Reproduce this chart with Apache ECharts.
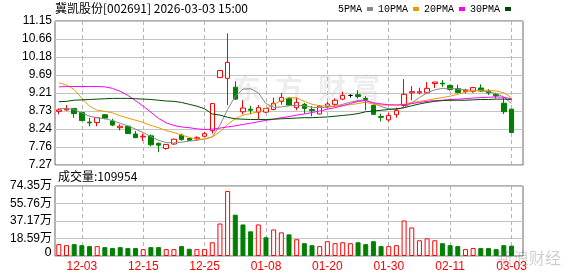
<!DOCTYPE html>
<html><head><meta charset="utf-8">
<script src="https://cdn.jsdelivr.net/npm/echarts@6/dist/echarts.min.js"></script>
<style>html,body{margin:0;padding:0;background:#fff}#c{width:578px;height:276px}</style>
</head><body><div id="c"></div>
<script>
const dates = ['11-28','12-01','12-02','12-03','12-04','12-05','12-08','12-09','12-10','12-11','12-12','12-15','12-16','12-17','12-18','12-19','12-22','12-23','12-24','12-25','12-26','12-29','12-30','12-31','01-05','01-06','01-07','01-08','01-09','01-12','01-13','01-14','01-15','01-16','01-19','01-20','01-21','01-22','01-23','01-26','01-27','01-28','01-29','01-30','02-02','02-03','02-04','02-05','02-06','02-09','02-10','02-11','02-12','02-13','02-24','02-25','02-26','02-27','03-02','03-03'];
const opens  = [8.72,8.76,8.80,8.69,8.43,8.42,8.63,8.46,8.28,8.32,8.11,8.03,8.06,7.86,7.72,7.84,8.08,7.99,7.98,8.05,8.20,9.63,9.61,9.37,8.71,8.78,8.70,8.70,8.77,8.99,9.07,8.82,8.91,8.77,8.65,8.86,8.91,9.05,9.15,9.17,9.07,8.88,8.58,8.49,8.63,8.88,9.22,9.22,9.22,9.47,9.48,9.42,9.33,9.26,9.26,9.35,9.26,9.18,8.94,8.78];
const closes = [8.76,8.79,8.66,8.47,8.41,8.55,8.54,8.35,8.32,8.12,8.01,8.05,7.82,7.81,7.83,7.97,7.96,7.94,8.01,8.12,8.93,9.82,10.04,9.05,8.81,8.75,8.82,8.80,8.94,9.09,8.89,8.96,8.80,8.74,8.86,8.92,9.02,9.15,9.15,9.12,9.04,8.64,8.56,8.61,8.74,9.18,9.25,9.25,9.34,9.51,9.46,9.31,9.23,9.29,9.36,9.27,9.22,9.14,8.71,8.15];
const lows   = [8.64,8.73,8.55,8.46,8.32,8.32,8.51,8.32,8.21,8.11,8.01,7.92,7.78,7.62,7.69,7.82,7.93,7.93,7.93,8.02,8.12,9.63,8.89,9.03,8.64,8.64,8.51,8.67,8.75,8.90,8.87,8.75,8.66,8.59,8.64,8.80,8.86,9.02,9.09,9.07,8.75,8.62,8.45,8.45,8.55,8.84,9.02,9.18,9.20,9.35,9.38,9.28,9.21,9.20,9.22,9.24,9.16,9.07,8.65,8.15];
const highs  = [8.80,8.89,8.81,8.71,8.55,8.57,8.65,8.52,8.37,8.33,8.19,8.12,8.10,7.88,7.84,7.99,8.12,8.01,8.05,8.17,8.93,9.82,10.82,9.53,9.02,8.87,8.89,8.81,9.09,9.22,9.10,9.09,8.95,8.86,8.89,8.97,9.07,9.25,9.18,9.29,9.13,8.90,8.66,8.68,8.82,9.59,9.40,9.36,9.51,9.51,9.56,9.44,9.44,9.33,9.38,9.45,9.32,9.22,9.09,8.78];
const volumes = [126000,115000,126000,115000,105000,105000,94000,84000,94000,84000,84000,73000,94000,94000,73000,73000,105000,77000,73000,73000,146000,345000,691000,439000,335000,262000,335000,199000,282000,251000,230000,178000,136000,115000,105000,157000,136000,146000,136000,146000,126000,157000,105000,105000,115000,377000,303000,167000,188000,167000,136000,115000,105000,73000,84000,84000,84000,73000,115000,109954];
const ma5  = [8.79,8.80,8.77,8.68,8.59,8.55,8.52,8.47,8.40,8.33,8.24,8.15,8.04,7.94,7.88,7.87,7.89,7.92,7.94,7.98,8.03,8.35,8.77,9.13,9.32,9.33,9.22,8.93,8.83,8.84,8.87,8.88,8.87,8.83,8.82,8.83,8.86,8.91,8.97,9.01,9.02,8.94,8.85,8.79,8.77,8.82,8.95,9.09,9.22,9.30,9.34,9.34,9.32,9.30,9.29,9.27,9.25,9.20,9.11,8.93];
const ma10 = [9.49,9.43,9.31,9.07,8.86,8.75,8.72,8.68,8.60,8.54,8.48,8.42,8.34,8.28,8.20,8.15,8.08,8.02,7.97,7.97,8.03,8.17,8.37,8.52,8.62,8.66,8.71,8.80,8.90,9.02,9.09,9.08,8.99,8.91,8.87,8.86,8.86,8.88,8.90,8.93,8.97,8.91,8.89,8.89,8.89,8.91,8.96,8.99,9.02,9.06,9.09,9.13,9.18,9.24,9.27,9.29,9.29,9.27,9.22,9.09];
const ma20 = [9.38,9.39,9.39,9.39,9.39,9.39,9.38,9.34,9.26,9.15,9.01,8.86,8.70,8.53,8.41,8.34,8.30,8.28,8.25,8.23,8.24,8.27,8.30,8.33,8.37,8.40,8.44,8.48,8.51,8.55,8.58,8.62,8.65,8.69,8.73,8.78,8.82,8.87,8.93,8.99,9.01,8.95,8.92,8.90,8.89,8.90,8.93,8.96,8.99,9.01,9.02,9.04,9.05,9.06,9.08,9.09,9.10,9.11,9.10,9.06];
const ma30 = [8.98,8.99,9.02,9.03,9.04,9.05,9.06,9.07,9.07,9.07,9.06,9.05,9.04,9.02,9.00,8.99,8.96,8.91,8.86,8.79,8.65,8.62,8.56,8.52,8.51,8.50,8.50,8.50,8.51,8.52,8.53,8.54,8.55,8.55,8.56,8.57,8.59,8.61,8.63,8.66,8.71,8.73,8.75,8.77,8.79,8.82,8.87,8.92,8.96,8.99,9.01,9.02,9.02,9.02,9.03,9.04,9.04,9.05,9.05,9.04];
const priceTicks = ['7.27','7.76','8.24','8.73','9.21','9.69','10.18','10.66','11.15'];
const volTicks = ['0','18.59万','37.17万','55.76万','74.35万'];
const titleText = '冀凯股份[002691] 2026-03-03 15:00';
const volTitle = '成交量:109954';

const PSTEP = 0.485, PBASE = 15;
const VSTEP = 185875;
const UP = '#ff0000', DOWN = '#008000';
const GRID_LEFT = 55, GRID1_TOP = 186, GRID1_H = 70;
const cats = dates.concat(['']);
const candleData = opens.map((o, i) => {
  const v = [o, closes[i], lows[i], highs[i]];
  if (o === closes[i]) return {value: v, itemStyle: {color: '#000', color0: '#000', borderColor: '#000', borderColor0: '#000'}};
  return v;
});
const volData = volumes.map((v, i) => {
  const up = i === 0 ? closes[0] >= opens[0] : closes[i] >= closes[i - 1];
  return {value: v, itemStyle: up ? {color: '#fff', borderColor: UP, borderWidth: 1} : {color: DOWN, borderColor: DOWN, borderWidth: 1}};
});
const showIdx = (i) => i % 8 === 3;
const font = 'Liberation Sans, Noto Sans CJK SC, sans-serif';
function xAxis(grid, labels, splits) {
  return {
    type: 'category', gridIndex: grid, data: cats, boundaryGap: true,
    axisLine: {show: false, onZero: false}, axisTick: {show: false},
    axisLabel: {show: labels, interval: showIdx, color: '#ff0000', fontSize: 12, fontFamily: font, margin: 5},
    splitLine: {show: splits, interval: showIdx, alignWithLabel: true, lineStyle: {color: '#b4b4b4', type: [4, 3], width: 1}}
  };
}
const chart = echarts.init(document.getElementById('c'));
chart.setOption({
  animation: false,
  backgroundColor: '#fff',
  title: {text: titleText, left: GRID_LEFT, top: 2, padding: 0, textStyle: {fontSize: 12, fontWeight: 'normal', color: '#000', fontFamily: 'Noto Sans CJK SC'}},
  legend: {
    data: ['5PMA', '10PMA', '20PMA', '30PMA'], left: 338, top: 4, padding: 0, align: 'right',
    icon: 'rect', itemWidth: 6, itemHeight: 4, itemGap: 5,
    textStyle: {fontFamily: 'Liberation Mono', fontSize: 10, color: '#000'}
  },
  graphic: [
    {type: 'text', left: 233, top: 74, z: -10, style: {text: '东', fontSize: 28, fontWeight: 'bold', fontFamily: 'Noto Sans CJK SC', fill: 'rgba(0,0,0,0.07)'}},
    {type: 'text', left: 275, top: 74, z: -10, style: {text: '方', fontSize: 28, fontWeight: 'bold', fontFamily: 'Noto Sans CJK SC', fill: 'rgba(0,0,0,0.07)'}},
    {type: 'text', left: 318, top: 74, z: -10, style: {text: '财', fontSize: 28, fontWeight: 'bold', fontFamily: 'Noto Sans CJK SC', fill: 'rgba(0,0,0,0.07)'}},
    {type: 'text', left: 352, top: 74, z: -10, style: {text: '富', fontSize: 28, fontWeight: 'bold', fontFamily: 'Noto Sans CJK SC', fill: 'rgba(0,0,0,0.07)'}},
    {type: 'text', left: 497, top: 250, z: 100, style: {text: '新浪财经', fontSize: 16, fontFamily: 'Noto Sans CJK SC', fill: 'rgba(120,120,120,0.35)'}},
    {type: 'text', left: 58, top: 170, style: {text: volTitle, fontSize: 12, fontFamily: 'Noto Sans CJK SC', fill: '#000'}},
    {type: 'text', zlevel: 1, z: 1000, x: GRID_LEFT - 3, y: GRID1_TOP + GRID1_H - 3,
      style: {text: String(volTicks[0]), fontSize: 12, fontFamily: 'DejaVu Sans', fill: '#000000', align: 'right', verticalAlign: 'middle'}}
  ],
  grid: [
    {left: GRID_LEFT, right: 55, top: 21, height: 144, show: true, borderColor: '#666', borderWidth: 1},
    {left: GRID_LEFT, right: 55, top: GRID1_TOP, height: GRID1_H, show: true, borderColor: '#666', borderWidth: 1},
    {left: GRID_LEFT, right: 55, top: 255, height: 1, show: false}
  ],
  xAxis: [xAxis(0, false, true), xAxis(1, false, true), xAxis(2, true, false)],
  yAxis: [
    {type: 'value', gridIndex: 0, min: PBASE * PSTEP, max: (PBASE + 8) * PSTEP, interval: PSTEP,
      axisLine: {show: false, onZero: false}, axisTick: {show: false},
      axisLabel: {showMinLabel: true, showMaxLabel: true, hideOverlap: false, formatter: (v) => priceTicks[Math.round(v / PSTEP) - PBASE] || '', color: '#000', fontSize: 12, fontFamily: font, margin: 3},
      splitLine: {lineStyle: {color: '#c4c4c4', width: 1}}},
    {type: 'value', gridIndex: 1, min: 0, max: 4 * VSTEP, interval: VSTEP,
      axisLine: {show: false, onZero: false}, axisTick: {show: false},
      axisLabel: {showMinLabel: true, showMaxLabel: true, hideOverlap: false,
        formatter: (v) => { const k = Math.round(v / VSTEP); return k > 0 ? (volTicks[k] || '') : ''; },
        color: '#000', fontSize: 12, fontFamily: font, margin: 3},
      splitLine: {lineStyle: {color: '#c4c4c4', width: 1}}},
    {type: 'value', gridIndex: 2, show: false}
  ],
  series: [
    {type: 'candlestick', xAxisIndex: 0, yAxisIndex: 0, data: candleData, barWidth: 5,
      itemStyle: {color: '#fff', color0: DOWN, borderColor: UP, borderColor0: DOWN, borderWidth: 1}},
    {name: '5PMA', type: 'line', data: ma5, symbol: 'none', z: 5, lineStyle: {width: 1, color: '#888888'}, itemStyle: {color: '#888888'}},
    {name: '10PMA', type: 'line', data: ma10, symbol: 'none', z: 5, lineStyle: {width: 1, color: '#f39800'}, itemStyle: {color: '#f39800'}},
    {name: '20PMA', type: 'line', data: ma20, symbol: 'none', z: 5, lineStyle: {width: 1, color: '#ff00ff'}, itemStyle: {color: '#ff00ff'}},
    {name: '30PMA', type: 'line', data: ma30, symbol: 'none', z: 5, lineStyle: {width: 1, color: '#004d00'}, itemStyle: {color: '#004d00'}},
    {type: 'bar', xAxisIndex: 1, yAxisIndex: 1, data: volData, barWidth: 5}
  ]
});
</script></body></html>
